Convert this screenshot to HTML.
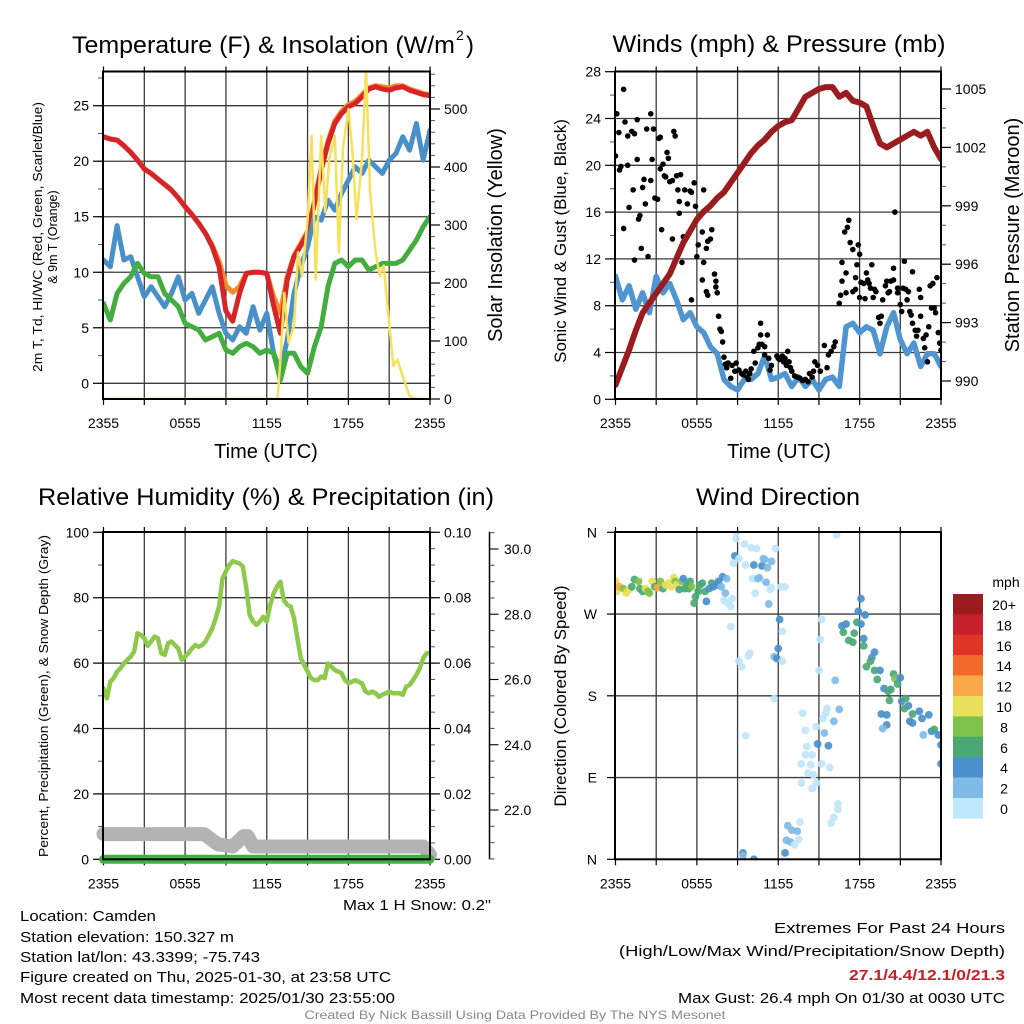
<!DOCTYPE html>
<html><head><meta charset="utf-8"><style>
html,body{margin:0;padding:0;background:#fff}
svg{display:block;font-family:"Liberation Sans",Arial,sans-serif}
</style></head><body>
<svg id="chart" width="1024" height="1024" viewBox="0 0 1024 1024" xmlns="http://www.w3.org/2000/svg">
<defs>
<clipPath id="c1"><rect x="103" y="71" width="327" height="328"/></clipPath>
<clipPath id="c2"><rect x="615" y="71" width="326" height="328"/></clipPath>
<clipPath id="c3"><rect x="103" y="532" width="327" height="327"/></clipPath>
<clipPath id="c4"><rect x="615" y="532" width="326" height="327"/></clipPath>
</defs>
<g id="root"></g>
</svg>
<script>
// ---------- DATA ----------
const timeLabels = ["2355","0555","1155","1755","2355"];
const halfHours = [0,0.5,1,1.5,2,2.5,3,3.5,4,4.5,5,5.5,6,6.5,7,7.5,8,8.5,9,9.5,10,10.5,11,11.5,12,12.5,13,13.5,14,14.5,15,15.5,16,16.5,17,17.5,18,18.5,19,19.5,20,20.5,21,21.5,22,22.5,23,23.5,24];
const temp2m = [22.2,22.0,21.9,21.4,20.8,20.1,19.3,18.9,18.4,17.9,17.4,16.7,15.9,15.2,14.4,13.5,12.3,10.5,6.5,5.6,8.1,9.9,10.0,10.0,9.9,7.0,4.5,9.3,11.4,12.4,13.5,16.2,19.2,21.6,23.4,24.3,24.9,25.2,25.8,26.5,26.7,26.5,26.4,26.6,26.7,26.4,26.2,26.0,25.9];
const temp9m = [22.2,22.0,21.9,21.4,20.8,20.1,19.3,18.9,18.4,17.9,17.4,16.7,15.9,15.2,14.4,13.5,12.4,11.0,8.8,8.2,8.7,9.9,10.0,10.0,9.9,7.8,6.3,9.6,11.5,12.6,13.7,16.4,19.4,21.8,23.6,24.5,25.1,25.4,26.0,26.6,26.8,26.7,26.6,26.8,26.8,26.5,26.3,26.1,26.0];
const windChill = [11.1,10.5,14.2,11.1,11.4,9.6,7.8,8.7,7.8,6.9,8.1,9.6,7.5,8.1,6.3,7.5,8.7,6.3,4.5,3.9,5.1,4.5,6.9,4.8,6.3,2.7,1.2,3.9,8.1,10.5,12.3,15.0,14.7,16.5,15.6,17.1,18.3,19.5,18.9,20.1,19.5,18.9,20.1,20.7,22.2,21.0,23.4,20.1,22.8];
const dewPoint = [7.2,5.7,8.1,9.0,9.6,10.8,9.9,9.6,9.6,8.1,7.5,6.9,5.4,5.1,4.8,3.9,4.2,4.5,3.0,2.7,3.3,3.6,3.3,2.7,3.0,2.7,0.3,2.7,2.7,1.5,0.9,3.3,5.1,8.7,10.8,11.1,10.5,11.1,11.1,10.2,10.5,10.8,10.8,10.8,11.1,12.0,12.9,14.1,15.0];
const solarHours = [0,12.8,13.0,13.3,13.6,14.0,14.3,14.6,15.0,15.3,15.6,16.0,16.3,16.6,17.0,17.3,17.6,18.0,18.3,18.6,19.0,19.3,19.6,20.0,20.3,20.6,21.0,21.3,21.6,22.0,22.5,23.0,24];
const solarValues = [0,0,68,183,97,126,253,212,310,454,206,454,322,414,454,253,431,500,425,310,414,570,356,253,212,230,131,57,68,39,5,0,0];
const windValues = [10.5,8.5,9.7,7.7,9.1,7.4,10.5,9.1,9.9,8.5,6.8,7.4,6.2,5.7,4.5,3.9,1.7,1.1,0.8,1.7,1.7,2.2,3.7,1.7,1.9,2.2,1.1,1.9,1.1,1.7,0.8,1.7,1.9,1.1,6.2,6.5,5.7,6.2,5.9,3.9,6.2,7.4,5.1,3.9,4.8,2.8,3.9,3.9,2.8];
const pressureValues = [989.8,990.7,991.6,992.6,993.5,994.0,994.5,995.0,995.5,996.3,997.1,997.7,998.3,998.7,999.0,999.4,999.7,1000.2,1000.7,1001.2,1001.7,1002.1,1002.4,1002.8,1003.1,1003.3,1003.4,1004.0,1004.6,1004.8,1005.0,1005.1,1005.1,1004.6,1004.8,1004.4,1004.3,1004.1,1003.1,1002.2,1002.0,1002.2,1002.4,1002.6,1002.8,1002.6,1002.8,1002.0,1001.4];
const gustHours = [0,0.1,0.6,0.25,0.7,0.9,0.4,0.3,0.9,1,0.6,1.2,1.4,1.6,1.6,1.3,1.7,1.8,1.9,1.4,2,2.1,2.2,2.4,2.3,2.6,2.6,2.7,2.8,2.9,3.1,3.2,3.3,3.3,3.4,3.5,3.6,3.7,3.8,3.9,4,4.2,4.2,4.3,4.4,4.5,4.6,4.7,4.7,4.8,4.9,5,5.1,5.3,5.4,5.5,5.6,5.8,5.9,6,6.1,6.4,6.5,6.7,6.8,7.1,7,5.6,6.4,6.5,6.7,6.8,7.3,7.4,7.4,7.5,7.6,7.7,7.8,7.9,8,8.1,8.2,8.3,8.5,8.6,8.8,8.9,9.1,9.3,9.4,9.6,9.7,9.8,9.9,10,10.2,10.3,10.5,10.6,10.7,10.7,10.8,11,11.2,11,11.3,11.4,11.5,11.9,12,12.1,12.3,12.4,12.5,12.6,12.7,12.8,12.9,13,13.2,13.4,13.6,13.8,14,14.2,14.3,14.5,14.6,14.7,14.9,15.1,15.4,15.6,15.7,15.9,16.1,16.2,16.5,16.6,16.7,16.7,16.9,17,17,17.1,17.2,17.3,17.5,17.5,17.7,17.7,17.8,17.9,18,18,18.1,18.3,18.4,18.5,18.6,18.7,18.8,18.9,19,19.1,19.2,19.4,19.5,19.6,19.7,19.9,20,20.1,20.2,20.3,20.5,20.5,20.6,20.8,20.8,21,21.1,21.2,21.3,21.4,21.5,21.6,21.7,21.8,21.9,21.9,22.1,22.2,22.3,22.4,22.5,22.5,22.7,22.8,22.9,23.1,23.2,23.3,23.4,23.5,23.6,23.7,23.8,23.9,24,23];
const gustValues = [20.8,24.4,26.5,22.8,23.7,22.5,19.9,19.6,20,16.4,14.6,22.9,22.7,23.9,20.5,17.9,15.4,15.7,12.9,11.9,18.1,18.8,16.7,12.2,23.1,24.4,18.7,20.5,23.1,17.2,17.1,22.3,22.4,19.7,14.5,20.1,19.1,19,21.1,20.6,18.6,18.7,13.7,22.9,22.5,19.1,17.9,16.9,15.9,19.2,11.7,13.9,17.9,16.7,14.2,17.8,17.7,18.5,16.5,12.2,13.2,14.3,17.9,12.9,13.5,14.5,13.7,8.5,10.2,11.7,9.2,8.9,10.7,10.1,9.6,9.1,7.1,6,5.8,4.9,3.6,3,2.7,3.1,1.8,2.9,2.4,3.1,2.5,2.2,2.1,2.4,1.9,1.7,2.2,2.6,4.1,3.1,4.4,4.7,5.5,6.5,4.7,4.5,5.5,3.8,3.5,2.5,2.9,3.7,3.5,3.4,3.7,3.2,3.5,2.9,4.1,3.2,2.7,2.4,2,1.9,1.8,1.6,1.7,1.5,2.2,1.9,2.4,3.2,2.9,2.4,4.6,2.7,3.8,4.1,4.5,4.9,8.2,8.9,11.7,10.1,14.3,10.8,9.1,14.7,15.3,13.4,9.2,12.8,10.4,9.4,11.5,13.2,12.4,8.7,10,9.9,8.6,10.8,10.2,9.9,9.5,11.5,8.7,9.4,9.2,7,6.5,7.1,8.5,9.7,10.1,9.1,9.2,10.1,10.2,11.2,16,9.5,9.1,8.1,7.5,9.5,11.8,9.4,8.5,9.2,7.5,7.2,10.9,6.5,5.9,5.4,5.9,9.4,8.7,7.1,5.2,4.4,5.5,6.2,9.7,7.8,9.9,7.8,7.4,10.4,5.7,4.8,4.2,3.2];
const rhHours = [0,0.25,0.5,0.75,1,1.25,1.5,1.75,2,2.25,2.5,2.75,3,3.25,3.5,3.75,4,4.25,4.5,4.75,5,5.25,5.5,5.75,6,6.25,6.5,6.75,7,7.25,7.5,7.75,8,8.25,8.5,8.75,9,9.25,9.5,9.75,10,10.25,10.5,10.75,11,11.25,11.5,11.75,12,12.25,12.5,12.75,13,13.25,13.5,13.75,14,14.25,14.5,14.75,15,15.25,15.5,15.75,16,16.25,16.5,16.75,17,17.25,17.5,17.75,18,18.25,18.5,18.75,19,19.25,19.5,19.75,20,20.25,20.5,20.75,21,21.25,21.5,21.75,22,22.25,22.5,22.75,23,23.25,23.5,23.75,24];
const rhValues = [52.3,49.2,54.3,55.4,57.4,58.4,59.9,61,62,63.5,69.1,68.6,67.6,65.3,66.6,68.1,67.6,63,62.5,66.1,66.6,65.5,64.5,61,62,63,64.5,65.5,65,65.5,66.6,68.6,70.6,73.7,77.3,85.9,88,90,91.2,90.8,90.5,89.5,82.9,74.7,72.7,71.7,72.7,74.2,72.7,77.8,81.3,83.4,84.9,79.3,77.8,77.3,73.7,67.6,61.5,59.4,57.4,55.4,54.8,54.8,55.9,55.4,59.9,58.9,57.9,57.4,56.9,54.8,53.8,54.3,54.8,54.3,53.8,51.3,50.8,51.3,50.8,49.7,50.3,50.8,51.3,50.8,50.8,50.8,50.3,52.8,53.3,54.8,56.4,58.4,61.5,63,63];
const precipHours = [0,24];
const precipValues = [0,0];
const snowHours = [0,7.4,8.4,9.5,10.3,10.6,11.0,23.5,24];
const snowValues = [21.26,21.26,20.95,20.88,21.2,21.2,20.88,20.88,20.63];
const dirHours = [0.0,0.1,0.3,0.6,0.8,1.0,1.2,1.4,1.7,1.8,2.0,2.2,2.4,2.5,2.7,2.9,3.1,3.3,3.5,3.7,3.9,4.1,4.3,4.4,4.5,4.7,4.9,5.0,5.1,5.3,5.4,5.5,5.6,5.8,5.9,6.1,6.2,6.4,6.6,6.7,6.9,7.1,7.2,7.5,7.6,7.8,7.9,8.2,8.1,8.0,8.3,8.5,8.6,8.5,
8.9,8.9,9.5,10.0,10.4,8.8,9.1,8.7,9.6,10.2,10.8,10.9,11.0,11.5,11.2,11.8,10.1,10.5,10.6,11.1,11.4,11.5,12.2,12.5,10.3,11.3,12.1,12.3,12.0,11.7,11.9,12.3,9.9,9.8,9.1,9.3,11.7,9.6,
13.8,14.0,14.8,14.1,14.0,14.5,13.7,14.4,14.2,14.6,13.7,14.8,14.5,15.6,15.5,15.3,16.1,16.5,15.4,14.9,15.7,15.8,15.2,16.4,16.4,16.1,15.9,13.6,12.7,13.0,13.4,12.6,12.9,13.5,13.2,12.5,9.4,9.4,10.2,16.3,15.2,15.1,15.0,16.2,
18.1,17.9,18.4,16.7,17.0,17.8,18.1,16.8,17.6,17.2,17.5,18.3,18.3,19.1,18.9,18.8,18.5,19.1,19.5,19.3,19.8,20.3,20.1,20.5,20.6,20.8,21.0,20.2,21.1,21.4,21.6,21.3,21.9,19.6,20.0,20.0,19.7,21.7,21.9,22.4,22.6,23.1,22.7,23.3,23.5,23.8,24.0,24.0];
const dirValues = [306,295,300,298,293,297,300,308,306,298,295,298,295,293,306,300,299,306,298,302,304,300,310,306,302,297,306,309,298,302,298,306,300,282,289,295,302,304,295,284,298,304,300,302,306,300,311,309,293,285,282,278,287,256,
360,353,347,343,342,334,331,326,324,324,323,331,330,328,321,342,309,309,310,305,297,299,300,300,293,281,264,251,232,223,221,218,227,224,218,212,177,136,
161,142,146,124,115,115,105,104,95,93,84,84,78,166,161,155,152,165,139,127,125,101,105,61,55,46,40,41,37,32,31,21,19,22,16,7,7,4,0,357,264,242,208,197,
287,273,269,257,259,261,259,250,249,241,239,243,235,228,222,218,212,208,208,198,188,187,185,204,199,193,200,175,174,177,169,166,160,160,159,148,144,152,150,163,155,159,137,141,143,137,126,105];
const dirSpeeds = [10,10,13,9,10,10,7,6,9,7,7,10,9,8,10,7,13,8,7,10,11,10,10,9,10,7,8,4,7,7,6,7,8,6,6,6,6,6,6,4,4,6,4,4,4,3,4,2,3,1,1,1,1,1,
1,1,1,1,1,4,1,1,1,4,5,3,3,3,3,1,1,3,3,3,1,1,1,1,1,3,4,1,4,3,4,1,1,1,1,1,1,1,
1,1,1,1,1,1,1,1,1,1,1,1,1,1,1,1,3,3,3,4,4,1,1,1,1,1,1,1,3,3,3,3,3,1,1,4,4,3,4,1,1,1,1,3,
4,4,4,4,4,6,4,6,6,6,6,4,6,4,4,6,6,6,4,6,4,6,6,6,9,6,4,6,4,6,4,6,6,4,4,4,3,4,4,4,4,4,3,4,6,4,4,4];
const speedLabels = ["20+","18","16","14","12","10","8","6","4","2","0"];
const speedColors = ["#bfe6f9","#7fbbe6","#4a90cc","#4aa874","#7fc24c","#e8e05a","#f9a848","#f26a2c","#e03427","#c8202a","#9b1b1e"];
const dirLabels = ["N","E","S","W","N"];

// ---------- HELPERS ----------
const NS = "http://www.w3.org/2000/svg";
const root = document.getElementById('root');
function mk(tag, attrs, parent, txt) {
  const e = document.createElementNS(NS, tag);
  for (const k in attrs) e.setAttribute(k, attrs[k]);
  if (txt !== undefined) e.textContent = txt;
  (parent || root).appendChild(e);
  return e;
}
function scale(d0, d1, p0, p1) { return v => p0 + (v - d0) * (p1 - p0) / (d1 - d0); }
function pathOf(xs, ys, fx, fy) { return xs.map((x, i) => (i ? 'L' : 'M') + fx(x).toFixed(1) + ',' + fy(ys[i]).toFixed(1)).join(''); }

function frame(P, name) {
  const g = mk('g', {});
  
  
  for (let h = 3; h < 24; h += 3) {
    const x = P.x(h);
    mk('line', {x1: x, x2: x, y1: P.top, y2: P.bot, stroke: '#3a3a3a', 'stroke-width': 1.3}, g);
  }
  for (let h = 0; h <= 24; h += 3) {
    const x = P.x(h);
    mk('line', {x1: x, x2: x, y1: P.top - 5, y2: P.top, stroke: '#000', 'stroke-width': 1.2}, g);
    mk('line', {x1: x, x2: x, y1: P.bot, y2: P.bot + 6, stroke: '#000', 'stroke-width': 1.2}, g);
  }
  timeLabels.forEach((t, i) => {
    const tl = mk('text', {x: P.x(i * 6), y: P.bot + 29, 'font-size': 14, 'text-anchor': 'middle'}, g, t);
    
    
  });
  return g;
}
function border(P) {
  const b = mk('rect', {x: P.left, y: P.top, width: P.right - P.left, height: P.bot - P.top, fill: 'none', stroke: '#000', 'stroke-width': 2});
  
  
}
function yAxis(P, fy, lo, hi, major, minor, side, fmt, grid, minorLo) {
  const g = mk('g', {});
  
  
  const x0 = side === 'left' ? P.left : P.right;
  const dir = side === 'left' ? -1 : 1;
  if (minor) for (let v = (minorLo !== undefined ? minorLo : lo); v <= hi + 1e-9; v += minor) {
    const y = fy(v); if (y < P.top - 0.5 || y > P.bot + 0.5) continue;
    mk('line', {x1: x0, x2: x0 + dir * 5, y1: y, y2: y, stroke: '#555', 'stroke-width': 1}, g);
  }
  for (let v = lo; v <= hi + 1e-9; v += major) {
    const y = fy(v); if (y < P.top - 0.5 || y > P.bot + 0.5) continue;
    if (grid && y > P.top + 1 && y < P.bot - 1) mk('line', {x1: P.left, x2: P.right, y1: y, y2: y, stroke: '#3a3a3a', 'stroke-width': 1.3}, g);
    mk('line', {x1: x0, x2: x0 + dir * 10, y1: y, y2: y, stroke: '#000', 'stroke-width': 1.2}, g);
    const t = mk('text', {x: x0 + dir * 14, y: y + 5, 'font-size': 14, 'text-anchor': side === 'left' ? 'end' : 'start'}, g, fmt(v));
    
    
  }
}
function text(x, y, s, size, name, opts) {
  opts = opts || {};
  const a = {x: x, y: y, 'font-size': size, 'text-anchor': opts.anchor || 'middle', fill: opts.fill || '#000'};
  if (opts.rot) a.transform = 'rotate(-90 ' + x + ' ' + y + ')';
  if (opts.len) { a.textLength = opts.len; a.lengthAdjust = 'spacingAndGlyphs'; }
  if (opts.bold) a['font-weight'] = 'bold';
  const t = mk('text', a, root, s);
  
  
  return t;
}
function line(P, clip, xs, ys, fy, color, w, name) {
  const a = {d: pathOf(xs, ys, P.x, fy), fill: 'none', stroke: color, 'stroke-width': w, 'stroke-linejoin': 'round', 'stroke-linecap': 'round'};
  if (clip) a['clip-path'] = 'url(#' + clip + ')';
  const p = mk('path', a);
  
  
}

// ---------- PANEL 1 ----------
const P1 = {left: 103, right: 430, top: 71.5, bot: 399, x: scale(0, 24, 103.5, 430)};
const yT = scale(0, 25, 383.3, 105.7);
const yS = scale(0, 500, 399, 109);
frame(P1, 'temperature');
yAxis(P1, yT, 0, 27.5, 5, 2.5, 'left', v => String(v), true);
yAxis(P1, yS, 0, 560, 100, 20, 'right', v => String(v), false);
line(P1, 'c1', halfHours, temp9m, yT, '#f58a2b', 5, 'temp-9m-line');
line(P1, 'c1', halfHours, temp2m, yT, '#d62428', 5, 'temp-2m-line');
line(P1, 'c1', halfHours, windChill, yT, '#4a90c8', 5, 'wind-chill-line');
line(P1, 'c1', halfHours, dewPoint, yT, '#43ad3f', 5, 'dewpoint-line');
line(P1, 'c1', solarHours, solarValues, yS, '#f7e05a', 2.5, 'solar-line');
border(P1);
text(455, 53, 'Temperature (F) & Insolation (W/m', 24, 'temperature-title', {anchor: 'end', len: 383});
text(456, 40, '2', 14, 'title-superscript', {anchor: 'start'});
text(466, 53, ')', 24, 'title-paren', {anchor: 'start'});
text(266, 458, 'Time (UTC)', 20, 'x-axis-title');
text(42, 237, '2m T, Td, HI/WC (Red, Green, Scarlet/Blue)', 12.5, 'y-axis-title-line1', {rot: true, len: 270});
text(57, 237, '& 9m T (Orange)', 12.5, 'y-axis-title-line2', {rot: true});
text(502, 235, 'Solar Insolation (Yellow)', 20, 'right-axis-title', {rot: true});

// ---------- PANEL 2 ----------
const P2 = {left: 615, right: 941, top: 71.5, bot: 399, x: scale(0, 24, 615.5, 941)};
const yW = scale(0, 28, 399.3, 71.7);
const yP = scale(990, 1005, 381, 89);
frame(P2, 'winds');
yAxis(P2, yW, 0, 28, 4, 2, 'left', v => String(v), true);
yAxis(P2, yP, 990, 1006, 3, 1, 'right', v => String(v), false, 989);
line(P2, 'c2', halfHours, windValues, yW, '#4f95d0', 5.5, 'sonic-wind-line');
const gg = mk('g', {'clip-path': 'url(#c2)'});


gustHours.forEach((h, i) => {
  const c = mk('circle', {cx: P2.x(h), cy: yW(gustValues[i]), r: 2.8, fill: '#000'}, gg);
  
  
});
line(P2, 'c2', halfHours, pressureValues, yP, '#9b1c1f', 6, 'pressure-line');
border(P2);
text(779, 52, 'Winds (mph) & Pressure (mb)', 24, 'winds-title', {len: 333});
text(779, 458, 'Time (UTC)', 20, 'x-axis-title');
text(566, 241, 'Sonic Wind & Gust (Blue, Black)', 17, 'left-axis-title', {rot: true});
text(1019, 235, 'Station Pressure (Maroon)', 20, 'right-axis-title', {rot: true});

// ---------- PANEL 3 ----------
const P3 = {left: 103, right: 430, top: 532, bot: 859.3, x: scale(0, 24, 103.5, 430)};
const yRH = scale(0, 100, 859.3, 532.3);
const yPr = scale(0, 0.10, 859.3, 532.3);
const ySn = scale(22, 30, 810, 549);
frame(P3, 'humidity');
yAxis(P3, yRH, 0, 100, 20, 10, 'left', v => String(v), true);
yAxis(P3, yPr, 0, 0.10001, 0.02, 0.005, 'right', v => v.toFixed(2), false);
const sg = mk('g', {});


mk('line', {x1: 489.5, x2: 489.5, y1: 531.7, y2: 859.3, stroke: '#000', 'stroke-width': 1.5}, sg);
for (let v = 19.5; v <= 31; v += 0.5) {
  const y = ySn(v); if (y < 532 || y > 859) continue;
  const maj = Math.abs(v - Math.round(v / 2) * 2) < 1e-6;
  mk('line', {x1: 489.5, x2: 489.5 + (maj ? 9 : 5), y1: y, y2: y, stroke: maj ? '#000' : '#555', 'stroke-width': 1.1}, sg);
  if (maj) {
    const t = mk('text', {x: 504, y: y + 5, 'font-size': 14}, sg, v.toFixed(1));
    
    
  }
}
line(P3, null, snowHours, snowValues, ySn, '#b3b3b3', 14, 'snow-depth-line');
line(P3, null, precipHours, precipValues, yPr, '#41b046', 9, 'precip-line');
line(P3, 'c3', rhHours, rhValues, yRH, '#8dc94a', 4.5, 'rh-line');
border(P3);
text(266, 505, 'Relative Humidity (%) & Precipitation (in)', 24, 'humidity-title', {len: 456});
text(48, 696, 'Percent, Precipitation (Green), & Snow Depth (Gray)', 12.5, 'left-axis-title', {rot: true, len: 322});
text(491, 910, 'Max 1 H Snow: 0.2"', 15, 'max-snow-note', {anchor: 'end', len: 148});

// ---------- PANEL 4 ----------
const P4 = {left: 615, right: 941, top: 532, bot: 859.3, x: scale(0, 24, 615.5, 941)};
const yD = scale(0, 360, 859.3, 532.3);
frame(P4, 'direction');
const dg = mk('g', {});


dirLabels.forEach((l, i) => {
  const y = yD(i * 90);
  if (i > 0 && i < 4) mk('line', {x1: P4.left, x2: P4.right, y1: y, y2: y, stroke: '#3a3a3a', 'stroke-width': 1.3}, dg);
  mk('line', {x1: P4.left - 8, x2: P4.left, y1: y, y2: y, stroke: '#000', 'stroke-width': 1.2}, dg);
  const t = mk('text', {x: 597, y: y + 5, 'font-size': 14, 'text-anchor': 'end'}, dg, l);
  
  
});
const pg = mk('g', {'clip-path': 'url(#c4)'});


dirHours.forEach((h, i) => {
  const bin = Math.min(10, Math.floor(dirSpeeds[i] / 2));
  const c = mk('circle', {cx: P4.x(h), cy: yD(dirValues[i]), r: 3.9, fill: speedColors[bin], 'fill-opacity': 0.92}, pg);
  
  
});
border(P4);
text(778, 505, 'Wind Direction', 24, 'direction-title', {len: 164});
text(566, 696, 'Direction (Colored By Speed)', 17, 'left-axis-title', {rot: true});
const cb = mk('g', {});


speedLabels.forEach((l, i) => {
  const y = 594 + i * 20.4;
  const r = mk('rect', {x: 953, y: y, width: 30, height: 20.6, fill: speedColors[10 - i]}, cb);
  
  
  const t = mk('text', {x: 1004, y: y + 16, 'font-size': 14, 'text-anchor': 'middle'}, cb, l);
  
  
});
text(1006, 587, 'mph', 14, 'colorbar-unit');

// ---------- FOOTER ----------
text(20, 921, 'Location: Camden', 15, 'location-text', {anchor: 'start', len: 136});
text(20, 942, 'Station elevation: 150.327 m', 15, 'elevation-text', {anchor: 'start', len: 214});
text(20, 962, 'Station lat/lon: 43.3399; -75.743', 15, 'latlon-text', {anchor: 'start', len: 240});
text(20, 982, 'Figure created on Thu, 2025-01-30, at 23:58 UTC', 15, 'created-text', {anchor: 'start', len: 371});
text(20, 1003, 'Most recent data timestamp: 2025/01/30 23:55:00', 15, 'timestamp-text', {anchor: 'start', len: 375});
text(1005, 933, 'Extremes For Past 24 Hours', 15, 'extremes-heading', {anchor: 'end', len: 231});
text(1005, 956, '(High/Low/Max Wind/Precipitation/Snow Depth)', 15, 'extremes-legend', {anchor: 'end', len: 386});
text(1005, 980, '27.1/4.4/12.1/0/21.3', 15, 'extremes-values', {anchor: 'end', fill: '#c8202a', bold: true, len: 156});
text(1005, 1003, 'Max Gust: 26.4 mph On 01/30 at 0030 UTC', 15, 'max-gust-text', {anchor: 'end', len: 327});
text(515, 1019, 'Created By Nick Bassill Using Data Provided By The NYS Mesonet', 12, 'credit-text', {fill: '#888', len: 421});
</script>
</body></html>
